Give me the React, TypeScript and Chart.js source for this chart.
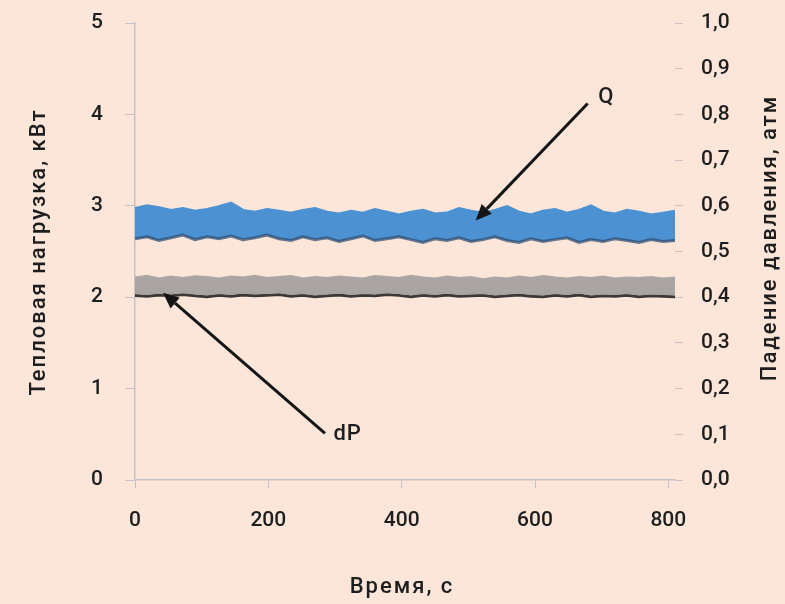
import React, { useEffect, useRef } from "react";
import { Chart, registerables } from "chart.js";

Chart.register(...registerables);

// time, s
const TIME = [0, 18, 36, 54, 72, 90, 108, 126, 144, 162, 180, 198, 216, 234, 252, 270, 288, 306, 324, 342, 360, 378, 396, 414, 432, 450, 468, 486, 504, 522, 540, 558, 576, 594, 612, 630, 648, 666, 684, 702, 720, 738, 756, 774, 792, 810];
// Q band, kW (left axis)
const Q_HIGH = [2.97, 3.0, 2.98, 2.95, 2.97, 2.94, 2.96, 2.99, 3.03, 2.95, 2.93, 2.96, 2.94, 2.92, 2.95, 2.97, 2.93, 2.91, 2.94, 2.92, 2.96, 2.93, 2.9, 2.93, 2.95, 2.91, 2.92, 2.97, 2.94, 2.92, 2.95, 2.99, 2.93, 2.9, 2.94, 2.96, 2.92, 2.95, 3.0, 2.93, 2.91, 2.95, 2.93, 2.9, 2.92, 2.94];
const Q_LOW = [2.64, 2.66, 2.62, 2.65, 2.68, 2.63, 2.66, 2.64, 2.67, 2.63, 2.65, 2.68, 2.64, 2.62, 2.66, 2.63, 2.65, 2.61, 2.64, 2.67, 2.62, 2.64, 2.66, 2.63, 2.6, 2.64, 2.62, 2.65, 2.61, 2.63, 2.66, 2.62, 2.6, 2.64, 2.61, 2.63, 2.65, 2.6, 2.63, 2.61, 2.64, 2.62, 2.6, 2.63, 2.61, 2.62];
// dP band, atm (right axis)
const DP_HIGH = [0.442, 0.446, 0.44, 0.444, 0.441, 0.445, 0.443, 0.44, 0.444, 0.442, 0.446, 0.441, 0.443, 0.445, 0.44, 0.443, 0.441, 0.444, 0.442, 0.44, 0.445, 0.443, 0.441, 0.446, 0.442, 0.44, 0.444, 0.441, 0.443, 0.438, 0.442, 0.44, 0.444, 0.441, 0.445, 0.442, 0.44, 0.443, 0.441, 0.444, 0.44, 0.442, 0.441, 0.443, 0.44, 0.442];
const DP_LOW = [0.409, 0.407, 0.41, 0.408, 0.411, 0.408, 0.406, 0.409, 0.407, 0.41, 0.408, 0.409, 0.411, 0.407, 0.409, 0.406, 0.408, 0.41, 0.407, 0.409, 0.408, 0.411, 0.409, 0.406, 0.409, 0.407, 0.41, 0.407, 0.408, 0.409, 0.406, 0.408, 0.41, 0.407, 0.406, 0.409, 0.407, 0.41, 0.406, 0.408, 0.407, 0.409, 0.406, 0.408, 0.407, 0.406];
const DP_BASE = [0.404, 0.402, 0.405, 0.403, 0.406, 0.403, 0.401, 0.404, 0.402, 0.405, 0.403, 0.404, 0.406, 0.402, 0.404, 0.401, 0.403, 0.405, 0.402, 0.404, 0.403, 0.406, 0.404, 0.401, 0.404, 0.402, 0.405, 0.402, 0.403, 0.404, 0.401, 0.403, 0.405, 0.402, 0.401, 0.404, 0.402, 0.405, 0.401, 0.403, 0.402, 0.404, 0.401, 0.403, 0.402, 0.401];

const X_TICKS = [0, 200, 400, 600, 800];
const X_TITLE = "Время, с";
const Y_LEFT_TITLE = "Тепловая нагрузка, кВт";
const Y_RIGHT_TITLE = "Падение давления, атм";

// arrows: [tailX, tailY(kW), headX, headY(kW)] and labels [x, y(kW), text]
const ARROW_Q = [679, 4.12, 511, 2.84];
const ARROW_DP = [285, 0.51, 42, 2.05];
const LABEL_Q: [number, number, string] = [707, 4.19, "Q"];
const LABEL_DP: [number, number, string] = [319, 0.5, "dP"];

const BG = "#fbe6d9";
const AXIS = "#c9c1c8";
const TEXT = "#1e1e1e";
const FONT = "Roboto";

const toXY = (xs: number[], ys: number[]) => xs.map((x, i) => ({ x, y: ys[i] }));

const noVPad = (s: any) => {
  s.paddingTop = 0;
  s.paddingBottom = 0;
};

const overlayPlugin = {
  id: "overlay",
  afterDraw(chart: any) {
    const { ctx, scales, chartArea } = chart;
    const xs = scales.x;
    const ys = scales.y;
    ctx.save();
    const drawArrow = (a: number[]) => {
      const x1 = xs.getPixelForValue(a[0]);
      const y1 = ys.getPixelForValue(a[1]);
      const x2 = xs.getPixelForValue(a[2]);
      const y2 = ys.getPixelForValue(a[3]);
      const ang = Math.atan2(y2 - y1, x2 - x1);
      const hl = 16;
      const hw = 7;
      const bx = x2 - hl * Math.cos(ang);
      const by = y2 - hl * Math.sin(ang);
      ctx.strokeStyle = "#151515";
      ctx.fillStyle = "#151515";
      ctx.lineWidth = 3;
      ctx.beginPath();
      ctx.moveTo(x1, y1);
      ctx.lineTo(bx, by);
      ctx.stroke();
      ctx.beginPath();
      ctx.moveTo(x2, y2);
      ctx.lineTo(bx + hw * Math.sin(ang), by - hw * Math.cos(ang));
      ctx.lineTo(bx - hw * Math.sin(ang), by + hw * Math.cos(ang));
      ctx.closePath();
      ctx.fill();
    };
    drawArrow(ARROW_Q);
    drawArrow(ARROW_DP);
    ctx.fillStyle = TEXT;
    ctx.font = `500 22px ${FONT}`;
    ctx.textAlign = "center";
    ctx.textBaseline = "middle";
    (ctx as any).letterSpacing = "1px";
    for (const l of [LABEL_Q, LABEL_DP]) {
      ctx.fillText(l[2], xs.getPixelForValue(l[0]), ys.getPixelForValue(l[1]));
    }
    // axis titles
    ctx.font = `500 22px ${FONT}`;
    (ctx as any).letterSpacing = "2px";
    ctx.save();
    ctx.translate(39, 252);
    ctx.rotate(-Math.PI / 2);
    ctx.fillText(Y_LEFT_TITLE, 0, 0);
    ctx.restore();
    ctx.save();
    ctx.translate(770, 238);
    ctx.rotate(-Math.PI / 2);
    ctx.fillText(Y_RIGHT_TITLE, 0, 0);
    ctx.restore();
    ctx.fillText(X_TITLE, (chartArea.left + chartArea.right) / 2 - 3, 587);
    ctx.restore();
  },
};

export default function App() {
  const ref = useRef<HTMLCanvasElement>(null);
  useEffect(() => {
    if (!ref.current) return;
    const tickFont = { family: FONT, size: 21, weight: 500 as any };
    const chart = new Chart(ref.current, {
      type: "line",
      data: {
        datasets: [
          {
            data: toXY(TIME, DP_LOW),
            yAxisID: "y1",
            borderColor: "#a7a2a0",
            borderWidth: 2,
            pointRadius: 0,
            fill: false,
          },
          {
            data: toXY(TIME, DP_HIGH),
            yAxisID: "y1",
            borderColor: "#aba6a4",
            borderWidth: 3,
            backgroundColor: "#aaa5a3",
            pointRadius: 0,
            fill: "-1",
          },
          {
            data: toXY(TIME, DP_BASE),
            yAxisID: "y1",
            borderColor: "rgba(25,25,25,0.85)",
            borderWidth: 3,
            pointRadius: 0,
            fill: false,
          },
          {
            data: toXY(TIME, Q_LOW),
            yAxisID: "y",
            borderColor: "rgba(40,70,105,0.7)",
            borderWidth: 3,
            pointRadius: 0,
            fill: false,
          },
          {
            data: toXY(TIME, Q_HIGH),
            yAxisID: "y",
            borderColor: "#4c91d2",
            borderWidth: 3,
            backgroundColor: "#4c91d2",
            pointRadius: 0,
            fill: "-1",
          },
        ],
      },
      options: {
        responsive: false,
        animation: false,
        events: [],
        layout: { padding: { top: 23, left: 0, right: 0, bottom: 0 } },
        plugins: { legend: { display: false }, tooltip: { enabled: false } },
        scales: {
          x: {
            type: "linear",
            min: 0,
            max: 810,
            afterBuildTicks: (s: any) => {
              s.ticks = X_TICKS.map((v) => ({ value: v }));
            },
            afterFit: (s: any) => {
              s.height = 124;
            },
            grid: { drawOnChartArea: false, color: AXIS, tickLength: 8 },
            border: { color: AXIS, width: 1.5 },
            ticks: {
              color: TEXT,
              font: tickFont,
              padding: 20,
              maxRotation: 0,
            },
          },
          y: {
            position: "left",
            min: 0,
            max: 5,
            afterFit: (s: any) => {
              s.width = 135;
              noVPad(s);
            },
            grid: { drawOnChartArea: false, color: AXIS, tickLength: 10 },
            border: { color: AXIS, width: 1.5 },
            ticks: {
              stepSize: 1,
              color: TEXT,
              font: tickFont,
              padding: 22,
            },
          },
          y1: {
            position: "right",
            min: 0,
            max: 1,
            afterFit: (s: any) => {
              s.width = 110;
              noVPad(s);
            },
            grid: { drawOnChartArea: false, color: AXIS, tickLength: 8 },
            border: { display: false },
            ticks: {
              stepSize: 0.1,
              color: TEXT,
              font: tickFont,
              padding: 18,
              callback: (v: any) => Number(v).toFixed(1).replace(".", ","),
            },
          },
        },
      },
      plugins: [overlayPlugin],
    });
    return () => chart.destroy();
  }, []);
  return (
    <div
      style={{
        position: "fixed",
        left: 0,
        top: 0,
        width: 785,
        height: 604,
        background: BG,
      }}
    >
      <canvas ref={ref} width={785} height={604} />
    </div>
  );
}
